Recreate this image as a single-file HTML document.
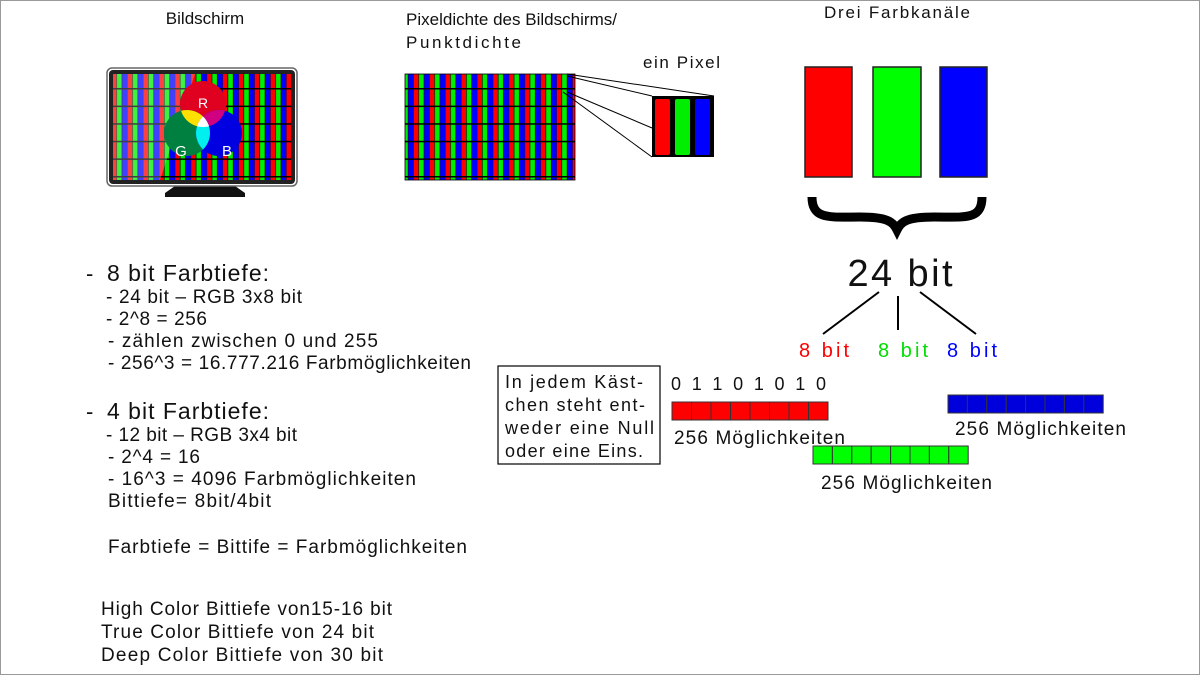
<!DOCTYPE html>
<html><head><meta charset="utf-8"><style>
html,body{margin:0;padding:0;background:#fff}
svg{display:block}
text{font-family:"Liberation Sans",sans-serif;fill:#111}
</style></head><body>
<svg width="1200" height="675" viewBox="0 0 1200 675" xmlns="http://www.w3.org/2000/svg">
<defs>
<pattern id="st" x="0" y="0" width="15.9" height="17.6" patternUnits="userSpaceOnUse">
<rect x="0" y="0" width="5.3" height="17.6" fill="#f00"/>
<rect x="5.3" y="0" width="5.3" height="17.6" fill="#0e0"/>
<rect x="10.6" y="0" width="5.3" height="17.6" fill="#00f"/>
<rect x="0" y="0" width="15.9" height="1.5" fill="#000"/>
<line x1="5.3" y1="0" x2="5.3" y2="17.6" stroke="#000" stroke-width="0.6"/>
<line x1="10.6" y1="0" x2="10.6" y2="17.6" stroke="#000" stroke-width="0.6"/>
<line x1="0" y1="0" x2="0" y2="17.6" stroke="#000" stroke-width="0.6"/>
</pattern>
<clipPath id="cR"><circle cx="203" cy="104" r="23"/></clipPath>
<clipPath id="cB"><circle cx="219" cy="133" r="23"/></clipPath>
</defs>
<rect x="0.5" y="0.5" width="1199" height="674" fill="none" stroke="#999"/>

<text x="205" y="24" font-size="17" text-anchor="middle">Bildschirm</text>
<text x="406" y="25" font-size="17" textLength="211">Pixeldichte des Bildschirms/</text>
<text x="406" y="48" font-size="17" textLength="115">Punktdichte</text>
<text x="643" y="68" font-size="17" textLength="77">ein Pixel</text>
<text x="897" y="18" font-size="17" text-anchor="middle" textLength="146">Drei Farbkanäle</text>

<!-- monitor -->
<polygon points="175,186 235,186 245,193 245,197 165,197 165,193" fill="#111"/>
<rect x="107" y="68" width="190" height="118" rx="5" fill="#fff" stroke="#666" stroke-width="1.5"/>
<rect x="109" y="70" width="186" height="114" rx="4" fill="#222"/>
<rect x="113" y="74" width="178" height="106" fill="url(#st)"/>
<polygon points="113,74 195,74 160,180 113,180" fill="#fff" opacity="0.25"/>
<circle cx="203" cy="104" r="23" fill="#e00020"/>
<circle cx="187" cy="133" r="23" fill="#008040"/>
<circle cx="219" cy="133" r="23" fill="#0000e0"/>
<circle cx="187" cy="133" r="23" fill="#ffe000" clip-path="url(#cR)"/>
<circle cx="219" cy="133" r="23" fill="#d00080" clip-path="url(#cR)"/>
<circle cx="187" cy="133" r="23" fill="#00f0f0" clip-path="url(#cB)"/>
<g clip-path="url(#cR)"><circle cx="187" cy="133" r="23" fill="#fff" clip-path="url(#cB)"/></g>
<text x="203" y="108" font-size="14" style="fill:#fff" text-anchor="middle">R</text>
<text x="181" y="156" font-size="15" style="fill:#fff" text-anchor="middle">G</text>
<text x="227" y="156" font-size="15" style="fill:#fff" text-anchor="middle">B</text>

<!-- pixel grid -->
<rect x="405" y="74" width="170" height="106" fill="url(#st)"/>
<rect x="405" y="74" width="170" height="106" fill="none" stroke="#000" stroke-width="0.8"/>
<line x1="567" y1="74" x2="714" y2="96" stroke="#000" stroke-width="1"/>
<line x1="567" y1="76" x2="652" y2="96" stroke="#000" stroke-width="1"/>
<line x1="567" y1="92" x2="652" y2="128" stroke="#000" stroke-width="1"/>
<line x1="563" y1="92" x2="652" y2="157" stroke="#000" stroke-width="1"/>
<rect x="652" y="96" width="62" height="61" fill="#000"/>
<rect x="655" y="99" width="15" height="56" rx="2" fill="#f00"/>
<rect x="675" y="99" width="15" height="56" rx="2" fill="#0e0"/>
<rect x="695" y="99" width="15" height="56" rx="2" fill="#00f"/>

<!-- channels -->
<rect x="805" y="67" width="47" height="110" fill="#f00" stroke="#222" stroke-width="1.5"/>
<rect x="873" y="67" width="48" height="110" fill="#0f0" stroke="#222" stroke-width="1.5"/>
<rect x="940" y="67" width="47" height="110" fill="#00f" stroke="#222" stroke-width="1.5"/>
<path d="M812,197 C812,220 830,217 860,217 C888,217 893,222 897,230 C901,222 906,217 934,217 C966,217 982,220 982,197" fill="none" stroke="#000" stroke-width="9"/>
<text x="900" y="286" font-size="38" text-anchor="middle" textLength="105">24 bit</text>
<line x1="879" y1="292" x2="823" y2="334" stroke="#000" stroke-width="2"/>
<line x1="898" y1="296" x2="898" y2="330" stroke="#000" stroke-width="2"/>
<line x1="920" y1="292" x2="976" y2="334" stroke="#000" stroke-width="2"/>
<text x="824" y="357" font-size="20" style="fill:#f00" text-anchor="middle" textLength="50">8 bit</text>
<text x="903" y="357" font-size="20" style="fill:#0d0" text-anchor="middle" textLength="50">8 bit</text>
<text x="972" y="357" font-size="20" style="fill:#00f" text-anchor="middle" textLength="50">8 bit</text>

<rect x="498" y="366" width="162" height="98" fill="#fff" stroke="#000" stroke-width="1.2"/>
<g font-size="18"><text x="505" y="388" textLength="138">In jedem Käst-</text><text x="505" y="411" textLength="140">chen steht ent-</text><text x="505" y="434" textLength="149">weder eine Null</text><text x="505" y="457" textLength="138">oder eine Eins.</text></g>
<text x="671" y="390" font-size="18" textLength="155">0 1 1 0 1 0 1 0</text>

<g stroke="#333" stroke-width="1">
<rect x="672" y="402" width="19.5" height="18" fill="#f00"/><rect x="691.5" y="402" width="19.5" height="18" fill="#f00"/><rect x="711" y="402" width="19.5" height="18" fill="#f00"/><rect x="730.5" y="402" width="19.5" height="18" fill="#f00"/><rect x="750" y="402" width="19.5" height="18" fill="#f00"/><rect x="769.5" y="402" width="19.5" height="18" fill="#f00"/><rect x="789" y="402" width="19.5" height="18" fill="#f00"/><rect x="808.5" y="402" width="19.5" height="18" fill="#f00"/>
<rect x="948" y="395" width="19.4" height="18" fill="#00d"/><rect x="967.4" y="395" width="19.4" height="18" fill="#00d"/><rect x="986.8" y="395" width="19.4" height="18" fill="#00d"/><rect x="1006.2" y="395" width="19.4" height="18" fill="#00d"/><rect x="1025.6" y="395" width="19.4" height="18" fill="#00d"/><rect x="1045" y="395" width="19.4" height="18" fill="#00d"/><rect x="1064.4" y="395" width="19.4" height="18" fill="#00d"/><rect x="1083.8" y="395" width="19.4" height="18" fill="#00d"/>
<rect x="813" y="446" width="19.4" height="18" fill="#0f0"/><rect x="832.4" y="446" width="19.4" height="18" fill="#0f0"/><rect x="851.8" y="446" width="19.4" height="18" fill="#0f0"/><rect x="871.2" y="446" width="19.4" height="18" fill="#0f0"/><rect x="890.6" y="446" width="19.4" height="18" fill="#0f0"/><rect x="910" y="446" width="19.4" height="18" fill="#0f0"/><rect x="929.4" y="446" width="19.4" height="18" fill="#0f0"/><rect x="948.8" y="446" width="19.4" height="18" fill="#0f0"/>
</g>
<text x="674" y="444" font-size="19" textLength="171">256 Möglichkeiten</text>
<text x="955" y="435" font-size="19" textLength="171">256 Möglichkeiten</text>
<text x="821" y="489" font-size="19" textLength="171">256 Möglichkeiten</text>

<text x="86" y="281" font-size="22">-</text>
<text x="107" y="281" font-size="23" textLength="162">8 bit Farbtiefe:</text>
<g font-size="19">
<text x="106" y="303" textLength="196">- 24 bit – RGB 3x8 bit</text>
<text x="106" y="325" textLength="101">- 2^8 = 256</text>
<text x="108" y="347" textLength="270">- zählen zwischen 0 und 255</text>
<text x="108" y="369" textLength="363">- 256^3 = 16.777.216 Farbmöglichkeiten</text>
</g>
<text x="86" y="419" font-size="22">-</text>
<text x="107" y="419" font-size="23" textLength="162">4 bit Farbtiefe:</text>
<g font-size="19">
<text x="106" y="441" textLength="191">- 12 bit – RGB 3x4 bit</text>
<text x="108" y="463" textLength="92">- 2^4 = 16</text>
<text x="108" y="485" textLength="308">- 16^3 = 4096 Farbmöglichkeiten</text>
<text x="108" y="507" textLength="163">Bittiefe= 8bit/4bit</text>
<text x="108" y="553" textLength="359">Farbtiefe = Bittife = Farbmöglichkeiten</text>
<text x="101" y="615" textLength="291">High Color Bittiefe von15-16 bit</text>
<text x="101" y="638" textLength="273">True Color Bittiefe von 24 bit</text>
<text x="101" y="661" textLength="282">Deep Color Bittiefe von 30 bit</text>
</g>
</svg>
</body></html>
